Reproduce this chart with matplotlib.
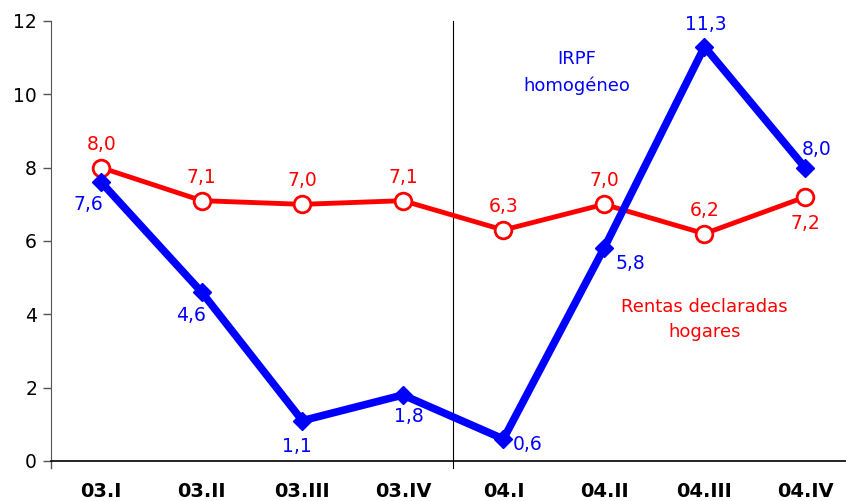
import matplotlib
matplotlib.use("Agg")
import matplotlib.pyplot as plt

categories = ["03.I", "03.II", "03.III", "03.IV", "04.I", "04.II", "04.III", "04.IV"]
irpf = [7.6, 4.6, 1.1, 1.8, 0.6, 5.8, 11.3, 8.0]
rentas = [8.0, 7.1, 7.0, 7.1, 6.3, 7.0, 6.2, 7.2]

blue = "#0000FF"
red = "#FF0000"

fig = plt.figure(figsize=(8.46, 5.01), dpi=100)
ax = fig.add_axes([51/846, 40/501, 1 - 51/846 + 0.011, 440/501])
x = list(range(len(categories)))

ax.plot(x, rentas, color=red, lw=3.5, marker="o", ms=12, mfc="white", mec=red, mew=2, zorder=3)
ax.plot(x, irpf, color=blue, lw=5.5, marker="D", ms=9, mfc=blue, mec=blue, zorder=4)

# vertical separator
ax.plot([3.5, 3.5], [-0.2, 12], color="black", lw=0.8, clip_on=False, zorder=1)
# left spine small extension below zero
ax.plot([-0.5, -0.5], [-0.2, 0], color="#555555", lw=1, clip_on=False, zorder=1)

ax.set_xlim(-0.5, 7.5)
ax.set_ylim(0, 12)
ax.set_yticks(range(0, 13, 2))
ax.set_xticks(x)
ax.set_xticklabels(categories, fontweight="bold", fontsize=14)
ax.tick_params(axis="x", length=0, pad=15)
ax.tick_params(axis="y", length=6, width=1, color="#555555", labelsize=13.5, pad=4)
for s in ["top", "right"]:
    ax.spines[s].set_visible(False)
ax.spines["left"].set_color("#555555")
ax.spines["bottom"].set_color("black")
ax.spines["bottom"].set_linewidth(1.2)

fs = 13.5
# red labels
for xi, v in zip(x, rentas):
    if xi == 7:
        ax.annotate(f"{v:.1f}".replace(".", ","), (xi, v), xytext=(0, -12), textcoords="offset points",
                    ha="center", va="top", color=red, fontsize=fs)
    else:
        ax.annotate(f"{v:.1f}".replace(".", ","), (xi, v), xytext=(0, 10), textcoords="offset points",
                    ha="center", va="bottom", color=red, fontsize=fs)

blue_offsets = [(-9, -9, "center", "top"), (-8, -10, "center", "top"), (-4, -12, "center", "top"),
                (4, -9, "center", "top"), (7, -4, "left", "center"), (8, -4, "left", "top"),
                (1, 9, "center", "bottom"), (8, 6, "center", "bottom")]
for xi, v, (dx, dy, ha, va) in zip(x, irpf, blue_offsets):
    ax.annotate(f"{v:.1f}".replace(".", ","), (xi, v), xytext=(dx, dy), textcoords="offset points",
                ha=ha, va=va, color=blue, fontsize=fs)

ax.text(4.73, 10.6, "IRPF\nhomogéneo", color=blue, fontsize=13, ha="center", va="center", linespacing=1.6)
ax.text(6.0, 3.85, "Rentas declaradas\nhogares", color=red, fontsize=13, ha="center", va="center", linespacing=1.5)

fig.savefig("out.png", dpi=100)
